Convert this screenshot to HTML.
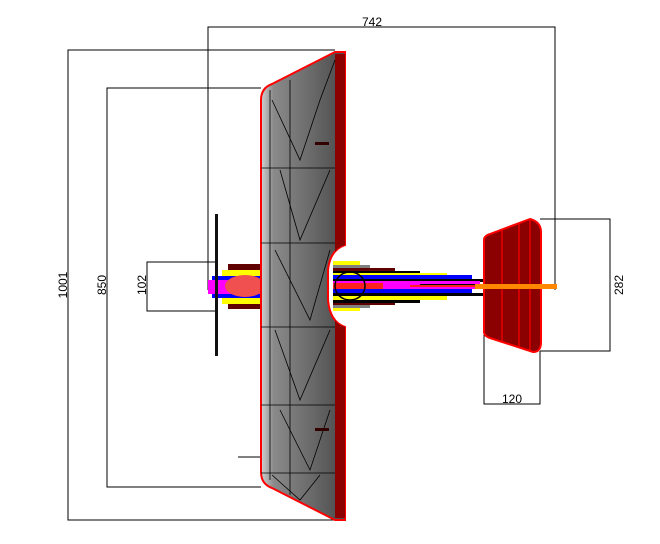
<!DOCTYPE html>
<html><head><meta charset="utf-8"><style>
html,body{margin:0;padding:0;background:#fff;width:660px;height:544px;overflow:hidden}
svg{display:block}
text{font-family:"Liberation Sans",sans-serif;font-size:12px;fill:#000}
</style></head><body>
<svg width="660" height="544" viewBox="0 0 660 544">
<defs>
<linearGradient id="wg" x1="0" x2="1" y1="0" y2="0">
<stop offset="0" stop-color="#d0d0d0"/><stop offset="0.15" stop-color="#8a8a8a"/><stop offset="0.6" stop-color="#6a6a6a"/><stop offset="1" stop-color="#4a4a4a"/>
</linearGradient>
</defs>
<!-- dimension lines -->
<g stroke="#000" stroke-width="1" fill="none">
<polyline points="208,290 208,27 555,27 555,290"/>
<polyline points="335,50 68,50 68,520 335,520"/>
<polyline points="261,88 107,88 107,487 261,487"/>
<polyline points="215,262 147,262 147,311 215,311"/>
<polyline points="540,219 610,219 610,351 540,351"/>
<polyline points="484,335 484,404 540,404 540,351"/>
<line x1="238" y1="457" x2="261" y2="457"/>
</g>
<!-- fuselage front -->
<rect x="228" y="264" width="40" height="45" fill="#600000"/>
<rect x="222" y="270" width="45" height="34" fill="#ffff00"/>
<rect x="212" y="276" width="55" height="22" fill="#0000ff"/>
<rect x="208" y="280" width="60" height="14" fill="#ff00ff"/>
<ellipse cx="245" cy="286" rx="20" ry="11" fill="#f05050"/>
<!-- propeller -->
<rect x="215" y="214" width="3" height="142" fill="#111"/>
<!-- wing -->
<path d="M261,100 Q261,88 272,84 L335,52 L345,52 L345,245 Q330,250 328,270 L328,300 Q330,322 345,327 L345,520 L335,520 L272,488 Q261,484 261,472 Z" fill="url(#wg)" stroke="#ff0000" stroke-width="2"/>
<path d="M335,54 L345,54 L345,245 Q338,247 335,252 Z M335,320 Q338,325 345,327 L345,518 L335,518 Z" fill="#8b0000"/>
<g stroke="#000" stroke-width="0.8" fill="none">
<line x1="261" y1="168" x2="335" y2="168"/><line x1="261" y1="243" x2="335" y2="243"/>
<line x1="261" y1="327" x2="335" y2="327"/><line x1="261" y1="405" x2="335" y2="405"/>
<line x1="261" y1="473" x2="335" y2="473"/>
<line x1="270" y1="90" x2="270" y2="480"/><line x1="290" y1="80" x2="290" y2="495"/>
<path d="M272,100 L300,160 L320,100 L335,60 M280,170 L300,240 L330,170 M275,250 L310,320 L330,250 M275,330 L300,400 L330,330 M280,410 L310,470 L330,410 M272,475 L300,500 L320,475"/>
</g>
<rect x="315" y="142" width="14" height="3" fill="#300"/>
<rect x="315" y="428" width="14" height="3" fill="#300"/>
<!-- fuselage rear (in notch) -->
<rect x="333" y="261" width="27" height="50" fill="#ffff00"/>
<rect x="333" y="265" width="37" height="43" fill="#808080"/>
<rect x="333" y="268" width="62" height="37" fill="#600000"/>
<rect x="333" y="271" width="87" height="32" fill="#000"/>
<rect x="333" y="273" width="114" height="27" fill="#ffff00"/>
<rect x="333" y="275" width="139" height="18" fill="#0000ff"/>
<rect x="333" y="279" width="187" height="3" fill="#000"/>
<rect x="333" y="281" width="147" height="8" fill="#ff00ff"/>
<rect x="333" y="289" width="139" height="4" fill="#0000ff"/>
<rect x="333" y="293" width="187" height="3" fill="#000"/>
<rect x="333" y="283" width="50" height="6" fill="#ff2020"/>
<rect x="410" y="285" width="65" height="2" fill="#ff2020"/>
<rect x="420" y="284" width="100" height="1" fill="#000"/>
<ellipse cx="350" cy="286" rx="15" ry="14" fill="none" stroke="#000" stroke-width="1.5"/>
<!-- tail -->
<path d="M484,240 Q484,236 490,234 L530,219 Q541,222 541,232 L541,342 Q541,352 533,352 L490,338 Q484,336 484,332 Z" fill="#8b0000" stroke="#ff0000" stroke-width="2"/>
<g stroke="#ff0000" stroke-width="1.2"><line x1="502" y1="230" x2="502" y2="343"/><line x1="519" y1="224" x2="519" y2="348"/><line x1="530" y1="220" x2="530" y2="351"/></g>
<rect x="475" y="284" width="82" height="5" fill="#ff8800"/>
<!-- labels -->
<text x="372" y="26" text-anchor="middle">742</text>
<text transform="translate(67,285) rotate(-90)" text-anchor="middle">1001</text>
<text transform="translate(106,285) rotate(-90)" text-anchor="middle">850</text>
<text transform="translate(146,285) rotate(-90)" text-anchor="middle">102</text>
<text transform="translate(623,285) rotate(-90)" text-anchor="middle">282</text>
<text x="512" y="403" text-anchor="middle">120</text>
</svg>
</body></html>
